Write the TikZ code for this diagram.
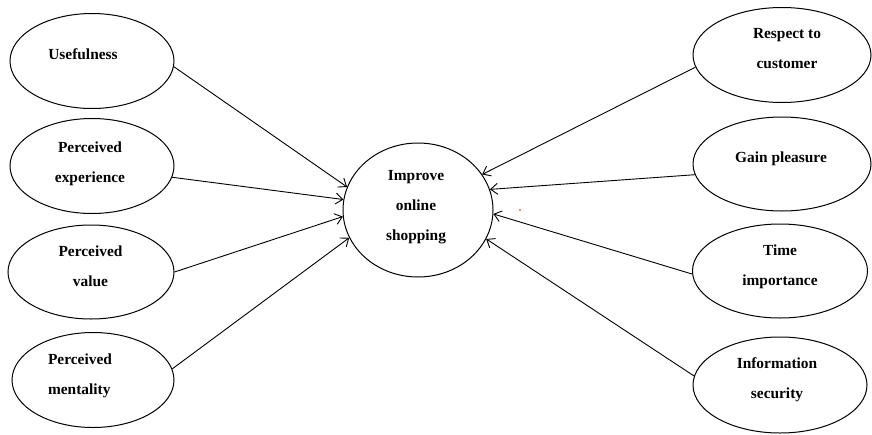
\documentclass[tikz,border=0pt]{standalone}
\usepackage{fontspec}
\setmainfont{Liberation Serif}
\usetikzlibrary{shapes.geometric,arrows.meta}

\tikzset{
	oval/.style={draw, ellipse, line width=1pt, minimum width=164pt, minimum height=95pt, inner sep=0pt},
	txt/.style={font=\fontsize{15.4}{30}\selectfont\bfseries, align=center, anchor=base, inner sep=0pt},
	link/.style={->, line width=0.9pt}
}

\begin{document}
\begin{tikzpicture}[x=1pt, y=-1pt, >={Straight Barb[length=7pt,width=11pt]}]
\useasboundingbox (0,0) rectangle (872,434);

%factors on the left
	\node[oval] (useful) at (92,61) {};
	\node[oval] (experience) at (92,166) {};
	\node[oval, minimum width=166pt, minimum height=94pt] (value) at (91,272) {};
	\node[oval, minimum width=162pt] (mentality) at (93,380) {};

	%factors on the right
	\node[oval, minimum width=178pt] (respect) at (782,55) {};
	\node[oval, minimum width=178pt, minimum height=94pt] (pleasure) at (782,164) {};
	\node[oval, minimum width=175pt, minimum height=94pt] (time) at (780,271) {};
	\node[oval, minimum width=174pt, minimum height=96pt] (security) at (780,385) {};

	%goal
	\node[oval, minimum width=150pt, minimum height=134pt] (improve) at (418,210) {};

	%labels (base = last line)
	\node[txt] (useful-t) at (83,59) {Usefulness};
	\node[txt] (experience-t) at (90,182) {Perceived\\experience};
	\node[txt] (value-t) at (90.5,286) {Perceived\\value};
	\node[txt, align=left] (mentality-t) at (80,394) {Perceived\\mentality};
	\node[txt] (respect-t) at (787,68) {Respect to\\customer};
	\node[txt] (pleasure-t) at (781,162) {Gain pleasure};
	\node[txt] (time-t) at (780,285) {Time\\importance};
	\node[txt] (security-t) at (777,398) {Information\\security};
	\node[txt] (improve-t) at (416,240) {Improve\\online\\shopping};

	%arrows
	\draw[link] (useful.-4) -- (improve.162);
	\draw[link] (experience.-8) -- (improve.172);
	\draw[link] (value.east) -- (improve.185);
	\draw[link] (mentality.8) -- (improve.202);
	\draw[link] (respect.188) -- (improve.29);
	\draw[link] (pleasure.187) -- (improve.16);
	\draw[link] (time.182) -- (improve.-3);
	\draw[link] (security.174) -- (improve.-23);

	\fill[red] (520,210) circle (0.8);
\end{tikzpicture}
\end{document}
